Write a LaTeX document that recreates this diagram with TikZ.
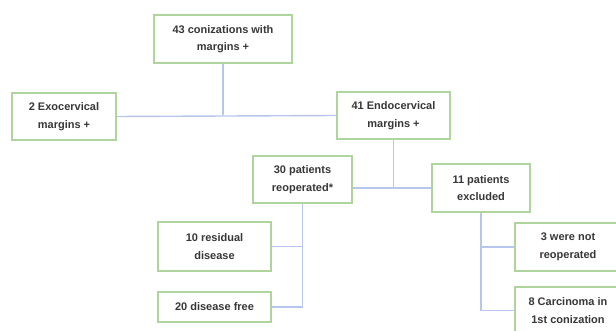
\documentclass[tikz,border=0pt]{standalone}
\usepackage{fontspec}
\setmainfont{Liberation Sans}
\definecolor{boxgreen}{RGB}{176,212,158}
\definecolor{linkblue}{RGB}{182,198,236}
\definecolor{textgray}{RGB}{55,55,55}
\tikzset{
  box/.style={draw=boxgreen, line width=1.3pt, fill=white, align=center,
    inner sep=2pt, text=textgray,
    font=\fontsize{11}{17.5}\selectfont\bfseries},
  link/.style={draw=linkblue, line width=1.4pt}
}
\begin{document}
\begin{tikzpicture}[x=1pt, y=-1pt]
    \useasboundingbox (0,0) rectangle (616,331);
    \clip (0,0) rectangle (616,331);
    % Top level
    \node[box, minimum width=138pt, minimum height=48pt] (conz) at (223,39) {43 conizations with\\margins +};
    \node[box, minimum width=104pt, minimum height=47pt] (exo) at (64,116.5) {2 Exocervical\\margins +};
    \node[box, minimum width=113pt, minimum height=47pt] (endo) at (393.5,115.5) {41 Endocervical\\margins +};
    % Second level
    \node[box, minimum width=99pt, minimum height=47pt] (reop) at (302.5,179.5) {30 patients\\reoperated*};
    \node[box, minimum width=98pt, minimum height=48pt] (excl) at (481,188) {11 patients\\excluded};
    % Outcomes of reoperation
    \node[box, minimum width=113pt, minimum height=49pt] (resid) at (214.5,246.5) {10 residual\\disease};
    \node[box, minimum width=113pt, minimum height=30pt] (free) at (214.5,307) {20 disease free};
    % Reasons for exclusion
    \node[box, minimum width=106pt, minimum height=48pt] (notreop) at (568,247) {3 were not\\reoperated};
    \node[box, minimum width=106pt, minimum height=47pt] (carc) at (568,310.5) {8 Carcinoma in\\1st conization};
    % Connectors
    \draw[link] (exo.east) -- (endo.west);
    \draw[link] (conz.south) -- (conz.south |- endo.west);
    \draw[link] (endo.south) -- (endo.south |- excl.west);
    \draw[link] (excl.west) -- (excl.west -| reop.east);
    \draw[link] (resid.east) -| (reop.south);
    \draw[link] (free.east) -| (reop.south);
    \draw[link] (notreop.west) -| (excl.south);
    \draw[link] (carc.west) -| (excl.south);
\end{tikzpicture}
\end{document}
